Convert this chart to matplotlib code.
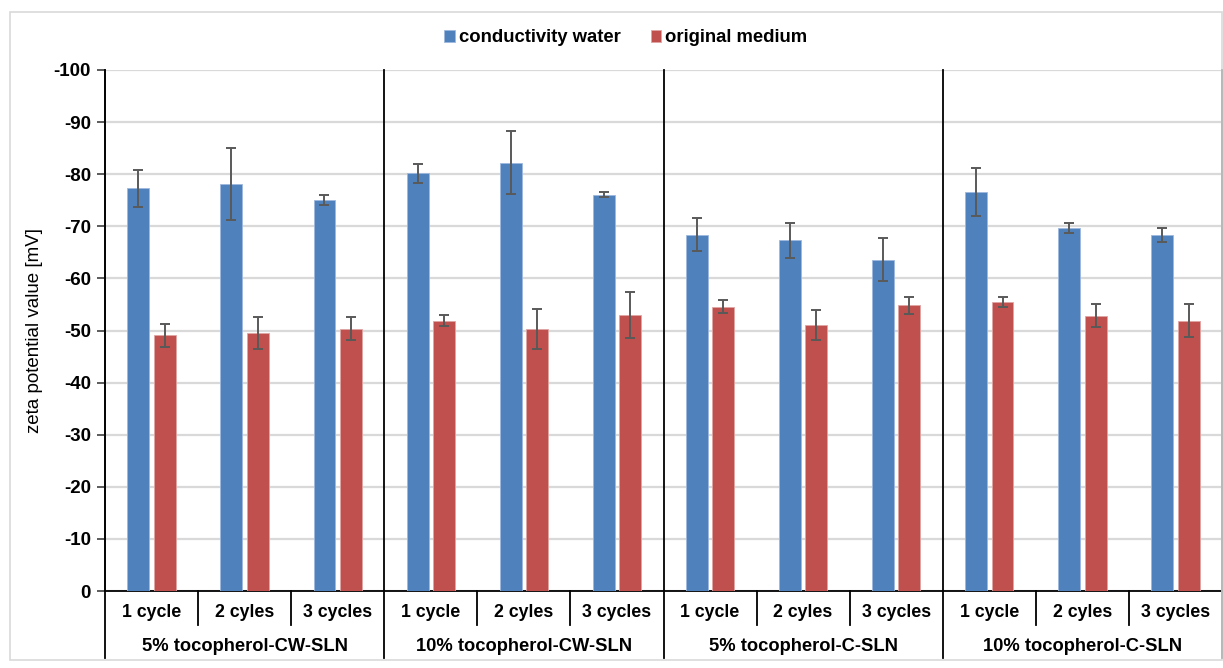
import numpy as np
import matplotlib
matplotlib.use("Agg")
import matplotlib.pyplot as plt
from matplotlib.patches import Rectangle
import matplotlib.transforms as mtransforms

plt.rcParams['font.family'] = ['Liberation Sans', 'DejaVu Sans']
plt.rcParams['font.weight'] = 'bold'

groups = ["5% tocopherol-CW-SLN", "10% tocopherol-CW-SLN",
          "5% tocopherol-C-SLN", "10% tocopherol-C-SLN"]
cycles = ["1 cycle", "2 cyles", "3 cycles"]

water = [-77.3, -78.1, -75.0,
         -80.2, -82.2, -76.1,
         -68.4, -67.3, -63.6,
         -76.5, -69.7, -68.3]
water_err = [3.5, 6.9, 1.0,
             1.8, 6.0, 0.5,
             3.1, 3.3, 4.1,
             4.6, 0.9, 1.4]
medium = [-49.1, -49.5, -50.3,
          -51.9, -50.3, -53.0,
          -54.6, -51.0, -54.8,
          -55.5, -52.8, -51.9]
medium_err = [2.2, 3.0, 2.2,
              1.1, 3.8, 4.4,
              1.2, 2.9, 1.7,
              0.9, 2.2, 3.2]

blue = "#4F81BD"
red = "#C0504D"
grid_c = "#D9D9D9"
err_c = "#595959"

fig = plt.figure(figsize=(12.23, 6.68), dpi=100)
fig.patches.append(Rectangle((10 / 1223, 8 / 668), 1212 / 1223, 648 / 668,
                             transform=fig.transFigure, fill=False,
                             edgecolor="#D9D9D9", linewidth=1.2))
ax = fig.add_axes([105 / 1223, 77 / 668, 1117 / 1223, 521 / 668])

n = len(water)
x = np.arange(n)
w = 0.235
off = 0.142
ekw = dict(ecolor=err_c, elinewidth=1.4, capsize=3.5, capthick=1.4)
ax.bar(x - off, water, w, color=blue, edgecolor="#9DB9DE", linewidth=0.6,
       yerr=water_err, error_kw=ekw, label="conductivity water", zorder=3)
ax.bar(x + off, medium, w, color=red, edgecolor="#DFA5A3", linewidth=0.6,
       yerr=medium_err, error_kw=ekw, label="original medium", zorder=3)

ax.set_xlim(-0.5, n - 0.5)
ax.set_ylim(0, -100)
ax.set_yticks(np.arange(0, -101, -10))
ax.set_yticklabels([str(v) for v in range(0, -101, -10)])
ax.yaxis.grid(True, color=grid_c, linewidth=1.6, zorder=0)
ax.set_axisbelow(True)
ax.tick_params(axis='y', labelsize=13.5, length=6, width=1.2, color="#404040", pad=4)
ax.set_xticks([])
for s in ["top", "right"]:
    ax.spines[s].set_visible(False)
ax.spines["left"].set_color("#404040")
ax.spines["left"].set_linewidth(1.3)
ax.spines["bottom"].set_color("black")
ax.spines["bottom"].set_linewidth(1.3)
ax.set_ylabel("zeta potential value [mV]", fontsize=13.5, fontweight='normal')
ax.yaxis.set_label_coords(-62 / 1117, 0.5)

trans = mtransforms.blended_transform_factory(ax.transData, ax.transAxes)
ng = len(groups)
nc = len(cycles)
# category separators and labels
for i in range(n):
    ax.text(i, -0.042, cycles[i % nc], transform=trans, ha="center", va="center",
            fontsize=12.8)
for i in range(n + 1):
    xb = i - 0.5
    if i % nc == 0:
        ax.plot([xb, xb], [-0.129, 1.0], transform=trans, color="black",
                linewidth=1.3, clip_on=False, zorder=4)
    else:
        ax.plot([xb, xb], [-0.065, 0], transform=trans, color="black",
                linewidth=1.3, clip_on=False, zorder=4)
for g in range(ng):
    xc = g * nc + (nc - 1) / 2
    ax.text(xc, -0.107, groups[g], transform=trans, ha="center", va="center",
            fontsize=13.2)

fig.legend(loc="center", bbox_to_anchor=(626 / 1223, 1 - 38 / 668), ncol=2,
           frameon=False, fontsize=13.3, handlelength=0.55, handleheight=0.55,
           columnspacing=1.6, handletextpad=0.25)

fig.savefig("out.png", dpi=100)
